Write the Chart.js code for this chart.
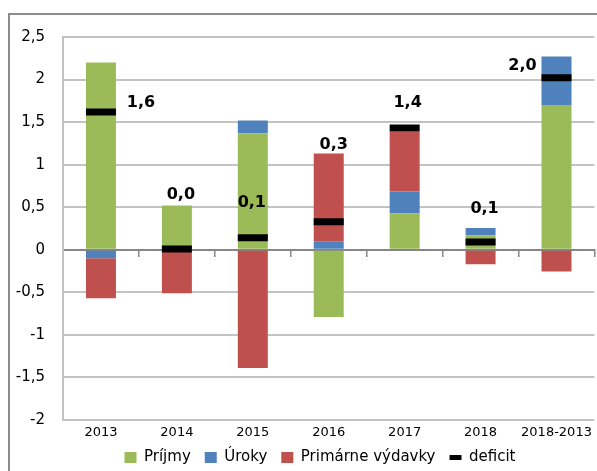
<!DOCTYPE html>
<html lang="sk">
<head>
    <meta charset="UTF-8">
    <title>Deficit – príspevky</title>
    <style>
        html, body {
            margin: 0;
            width: 597px;
            height: 471px;
            overflow: hidden;
            background: white;
        }
        #frame {
            position: absolute;
            left: 8px;
            top: 13px;
            width: 800px;
            height: 600px;
            border-left: 2px solid #8c8c8c;
            border-top: 2px solid #8c8c8c;
        }
        #wrap {
            position: absolute;
            left: 0;
            top: 0;
            width: 597px;
            height: 475px;
        }
    </style>
</head>
<body>
    <div id="frame"></div>
    <div id="wrap"><canvas id="chart"></canvas></div>

    <script src="https://cdn.jsdelivr.net/npm/chart.js"></script>
    <script>
        const categories = ['2013', '2014', '2015', '2016', '2017', '2018', '2018-2013'];
        const prijmy = [2.20, 0.52, 1.37, -0.79, 0.43, 0.17, 1.70];
        const uroky = [-0.10, 0.00, 0.15, 0.10, 0.255, 0.085, 0.57];
        const primarneVydavky = [-0.47, -0.51, -1.39, 1.03, 0.705, -0.17, -0.255];
        const deficit = [1.62, 0.01, 0.14, 0.33, 1.43, 0.09, 2.02];
        const yTicks = [-2, -1.5, -1, -0.5, 0, 0.5, 1, 1.5, 2, 2.5];

        // manual placement of the deficit labels (px from the marker), like in the original
        const labelDx = [40, 4, -1, 5, 3, 4, -34];
        const labelDy = [-9, -54, -35, -77, -25, -33, -12];

        const FONT = "'DejaVu Sans', Verdana, sans-serif";
        const fmt = v => String(v).replace('.', ',');

        const deficitLabels = {
            id: 'deficitLabels',
            afterLayout(chart) {
                // legend in the original sits a bit right of the page centre
                chart.legend.left += 22;
                chart.legend.right += 22;
            },
            afterDatasetsDraw(chart) {
                const meta = chart.getDatasetMeta(0);
                const ctx = chart.ctx;
                ctx.save();
                ctx.font = 'bold 16px ' + FONT;
                ctx.fillStyle = '#000';
                ctx.textAlign = 'center';
                ctx.textBaseline = 'middle';
                meta.data.forEach((pt, i) => {
                    ctx.fillText(deficit[i].toFixed(1).replace('.', ','), pt.x + labelDx[i], pt.y + labelDy[i]);
                });
                ctx.restore();
            }
        };

        new Chart(document.getElementById('chart'), {
            type: 'bar',
            data: {
                labels: categories,
                datasets: [
                    {
                        type: 'line',
                        label: 'deficit',
                        data: deficit,
                        stack: 'deficit',
                        showLine: false,
                        pointStyle: 'line',
                        pointRadius: 15,
                        pointHoverRadius: 15,
                        pointBorderWidth: 7,
                        borderColor: '#000',
                        backgroundColor: '#000',
                        order: 0
                    },
                    { label: 'Príjmy', data: prijmy, backgroundColor: '#9BBB59', stack: 'a', order: 1 },
                    { label: 'Úroky', data: uroky, backgroundColor: '#4F81BD', stack: 'a', order: 1 },
                    { label: 'Primárne výdavky', data: primarneVydavky, backgroundColor: '#C0504D', stack: 'a', order: 1 }
                ]
            },
            options: {
                responsive: true,
                maintainAspectRatio: false,
                animation: false,
                layout: { autoPadding: false, padding: { top: 37, right: 1, left: 0, bottom: 0 } },
                datasets: {
                    bar: { categoryPercentage: 1, barPercentage: 0.395 }
                },
                scales: {
                    x: {
                        stacked: true,
                        afterFit: s => { s.height = 16; },
                        grid: { display: false, drawTicks: false },
                        border: { display: false },
                        ticks: {
                            color: '#000',
                            font: { family: FONT, size: 13 },
                            padding: 5,
                            maxRotation: 0,
                            minRotation: 0,
                            autoSkip: false
                        }
                    },
                    x2: {
                        type: 'category',
                        position: { y: 0 },
                        afterFit: s => { s.height = 0; },
                        grid: { drawOnChartArea: false, drawTicks: true, tickLength: 6, offset: true, color: '#868686', lineWidth: 1.5 },
                        border: { color: '#868686', width: 2 },
                        ticks: { display: false }
                    },
                    y: {
                        stacked: true,
                        min: -2,
                        max: 2.5,
                        afterBuildTicks: s => { s.ticks = yTicks.map(v => ({ value: v })); },
                        afterFit: s => { s.width = 63; },
                        grid: {
                            drawTicks: false,
                            lineWidth: 2,
                            color: c => c.tick && c.tick.value === 0 ? '#868686' : '#c3c3c3'
                        },
                        border: { color: '#c3c3c3', width: 2 },
                        ticks: {
                            color: '#000',
                            padding: 18,
                            font: { family: FONT, size: 15 },
                            callback: v => fmt(v)
                        }
                    }
                },
                plugins: {
                    tooltip: { enabled: false },
                    legend: {
                        position: 'bottom',
                        labels: {
                            color: '#000',
                            font: { family: FONT, size: 15 },
                            usePointStyle: true,
                            pointStyleWidth: 12,
                            boxWidth: 12,
                            boxHeight: 11,
                            padding: 14,
                            generateLabels: chart => {
                                const ds = chart.data.datasets;
                                const order = [1, 2, 3, 0];
                                return order.map(i => ({
                                    text: ds[i].label,
                                    datasetIndex: i,
                                    fillStyle: ds[i].backgroundColor,
                                    strokeStyle: ds[i].type === 'line' ? '#000' : ds[i].backgroundColor,
                                    lineWidth: ds[i].type === 'line' ? 5 : 0,
                                    pointStyle: ds[i].type === 'line' ? 'line' : 'rect',
                                    fontColor: '#000',
                                    hidden: false
                                }));
                            }
                        }
                    }
                }
            },
            plugins: [deficitLabels]
        });
    </script>
</body>
</html>
